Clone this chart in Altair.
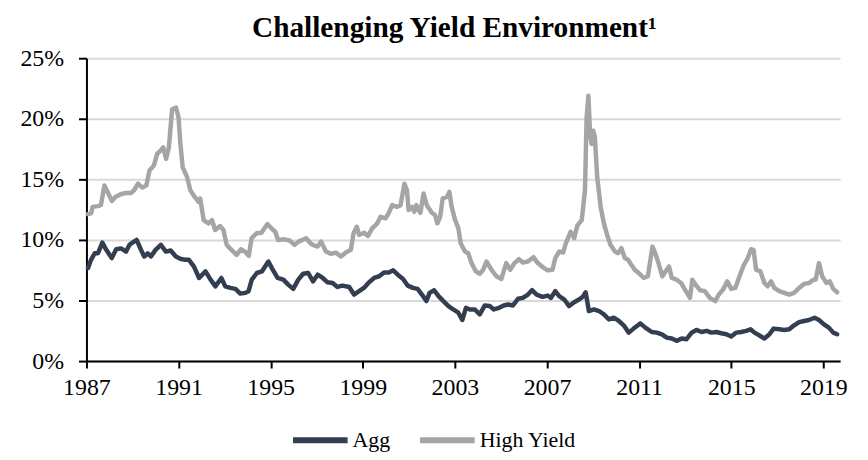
import altair as alt
import pandas as pd

agg_year = [1987.07, 1987.2, 1987.36, 1987.5, 1987.69, 1987.86, 1988.1, 1988.29, 1988.5, 1988.72,
            1988.87, 1989.0, 1989.18, 1989.37, 1989.51, 1989.66, 1989.8, 1990.0, 1990.23, 1990.45,
            1990.66, 1990.88, 1991.1, 1991.3, 1991.45, 1991.67, 1991.89, 1992.17, 1992.39, 1992.6,
            1992.86, 1993.03, 1993.25, 1993.47, 1993.68, 1993.9, 1994.04, 1994.18, 1994.4, 1994.62,
            1994.9, 1995.05, 1995.3, 1995.55, 1995.76, 1995.98, 1996.2, 1996.41, 1996.63, 1996.84,
            1997.04, 1997.26, 1997.47, 1997.69, 1997.9, 1998.12, 1998.41, 1998.62, 1998.84, 1999.05,
            1999.27, 1999.49, 1999.7, 1999.92, 2000.13, 2000.32, 2000.52, 2000.75, 2000.95, 2001.18,
            2001.38, 2001.57, 2001.76, 2001.9, 2002.1, 2002.29, 2002.5, 2002.72, 2002.93, 2003.15,
            2003.32, 2003.48, 2003.65, 2003.87, 2004.08, 2004.3, 2004.51, 2004.69, 2004.92, 2005.12,
            2005.31, 2005.52, 2005.74, 2005.95, 2006.17, 2006.35, 2006.55, 2006.81, 2007.03, 2007.17,
            2007.36, 2007.53, 2007.75, 2007.96, 2008.18, 2008.39, 2008.55, 2008.68, 2008.82, 2009.04,
            2009.26, 2009.47, 2009.69, 2009.9, 2010.12, 2010.33, 2010.55, 2010.76, 2011.05, 2011.27,
            2011.55, 2011.77, 2011.99, 2012.2, 2012.42, 2012.63, 2012.85, 2013.06, 2013.28, 2013.49,
            2013.71, 2013.93, 2014.14, 2014.36, 2014.57, 2014.79, 2015.0, 2015.22, 2015.43, 2015.65,
            2015.84, 2016.01, 2016.22, 2016.44, 2016.66, 2016.84, 2017.09, 2017.3, 2017.52, 2017.73,
            2017.95, 2018.16, 2018.38, 2018.62, 2018.81, 2019.03, 2019.24, 2019.43, 2019.6]
agg_val = [7.68, 8.36, 8.9, 8.9, 9.78, 9.18, 8.5, 9.23, 9.3, 9.04,
           9.6, 9.78, 10.0, 9.18, 8.63, 8.9, 8.63, 9.18, 9.6, 9.04,
           9.13, 8.63, 8.42, 8.36, 8.36, 7.8, 6.86, 7.4, 6.72, 6.17,
           6.86, 6.17, 6.04, 5.96, 5.57, 5.63, 5.77, 6.72, 7.27, 7.4,
           8.22, 7.68, 6.86, 6.72, 6.31, 5.96, 6.72, 7.21, 7.27, 6.58,
           7.13, 6.86, 6.5, 6.45, 6.12, 6.23, 6.12, 5.49, 5.77, 6.04,
           6.5, 6.86, 6.99, 7.32, 7.32, 7.49, 7.13, 6.78, 6.23, 6.04,
           5.96, 5.49, 4.95, 5.63, 5.85, 5.36, 4.95, 4.54, 4.26, 3.99,
           3.39, 4.4, 4.26, 4.26, 3.85, 4.59, 4.54, 4.26, 4.4, 4.59,
           4.67, 4.59, 5.14, 5.22, 5.49, 5.85, 5.49, 5.3, 5.41, 5.22,
           5.77, 5.36, 5.08, 4.54, 4.86, 5.08, 5.3, 5.68, 4.13, 4.26,
           4.13, 3.85, 3.44, 3.58, 3.31, 2.95, 2.35, 2.68, 3.11, 2.76,
           2.4, 2.35, 2.21, 1.94, 1.86, 1.67, 1.86, 1.8, 2.35, 2.57,
           2.4, 2.49, 2.35, 2.4, 2.3, 2.21, 2.02, 2.35, 2.4, 2.49,
           2.62, 2.35, 2.13, 1.86, 2.21, 2.68, 2.62, 2.57, 2.62, 2.95,
           3.22, 3.31, 3.39, 3.58, 3.39, 3.03, 2.76, 2.35, 2.21]

hy_year = [1987.06, 1987.2, 1987.27, 1987.49, 1987.63, 1987.78, 1987.92, 1988.1, 1988.25, 1988.49,
           1988.71, 1988.93, 1989.07, 1989.24, 1989.43, 1989.6, 1989.74, 1989.93, 1990.07, 1990.22,
           1990.33, 1990.46, 1990.58, 1990.72, 1990.89, 1991.0, 1991.08, 1991.18, 1991.37, 1991.51,
           1991.7, 1991.87, 1991.94, 1992.09, 1992.3, 1992.45, 1992.59, 1992.8, 1992.95, 1993.09,
           1993.3, 1993.52, 1993.71, 1993.88, 1994.05, 1994.17, 1994.39, 1994.6, 1994.86, 1995.03,
           1995.2, 1995.32, 1995.6, 1995.82, 1996.04, 1996.21, 1996.54, 1996.76, 1996.93,
           1997.04, 1997.19, 1997.4, 1997.62, 1997.83, 1998.05, 1998.26, 1998.48, 1998.6, 1998.74,
           1998.84, 1999.06, 1999.23, 1999.41, 1999.63, 1999.77, 1999.99, 2000.13, 2000.28, 2000.49,
           2000.64, 2000.81, 2000.92, 2000.99, 2001.14, 2001.24, 2001.33, 2001.5, 2001.64, 2001.78,
           2002.0, 2002.14, 2002.24, 2002.36, 2002.47, 2002.65, 2002.76, 2002.86, 2003.01, 2003.15,
           2003.25, 2003.44, 2003.58, 2003.72, 2003.91, 2004.08, 2004.23, 2004.37, 2004.59, 2004.8,
           2005.02, 2005.23, 2005.4, 2005.59, 2005.78, 2005.95, 2006.17, 2006.41, 2006.6, 2006.81,
           2007.03, 2007.24, 2007.36, 2007.53, 2007.7, 2007.82, 2008.03, 2008.18, 2008.32, 2008.51,
           2008.65, 2008.72, 2008.8, 2008.87, 2008.94, 2009.01, 2009.08, 2009.18, 2009.33, 2009.47,
           2009.61, 2009.76, 2009.95, 2010.09, 2010.23, 2010.38, 2010.52, 2010.66, 2010.81, 2010.98,
           2011.2, 2011.38, 2011.58, 2011.7, 2011.84, 2012.01, 2012.2, 2012.3, 2012.42, 2012.63,
           2012.82, 2012.99, 2013.21, 2013.31, 2013.45, 2013.64, 2013.85, 2014.07, 2014.31, 2014.46,
           2014.64, 2014.83, 2015.0, 2015.18, 2015.36, 2015.55, 2015.72, 2015.86, 2015.97, 2016.08,
           2016.27, 2016.44, 2016.58, 2016.73, 2016.87, 2017.09, 2017.3, 2017.52, 2017.73, 2017.95,
           2018.16, 2018.38, 2018.57, 2018.67, 2018.81, 2018.95, 2019.14, 2019.28, 2019.43, 2019.6]
hy_val = [12.13, 12.19, 12.73, 12.79, 12.87, 14.5, 13.96, 13.22, 13.55, 13.77,
          13.88, 13.88, 14.1, 14.64, 14.32, 14.5, 15.74, 16.15, 17.1, 17.38,
          17.65, 16.69, 17.65, 20.79, 20.93, 20.1, 17.92, 16.0, 15.19, 14.1,
          13.55, 13.14, 13.42, 11.64, 11.37, 11.64, 10.82, 11.15, 10.82, 9.59,
          9.18, 8.77, 9.23, 9.04, 8.69, 10.14, 10.55, 10.6, 11.31, 10.96,
          10.68, 10.0, 10.05, 9.95, 9.59, 9.86, 10.14, 9.67, 9.51,
          9.45, 9.86, 9.04, 8.85, 8.96, 8.63, 8.96, 9.18, 10.55, 11.09,
          10.41, 10.6, 10.33, 10.96, 11.37, 11.91, 11.78, 12.24, 12.87, 12.73,
          12.87, 14.64, 14.1, 12.46, 12.73, 12.32, 12.87, 12.24, 13.83, 12.87,
          12.24, 12.05, 11.37, 11.91, 13.42, 13.55, 13.96, 12.73, 11.64, 10.96,
          9.73, 9.04, 8.91, 8.09, 7.4, 7.21, 7.54, 8.22, 7.54, 7.0,
          6.78, 8.09, 7.54, 8.09, 8.42, 8.14, 8.22, 8.58, 8.09, 7.76,
          7.49, 7.54, 8.5, 9.04, 8.96, 9.73, 10.68, 10.14, 11.2, 11.64,
          14.1, 20.1, 21.9, 18.74, 17.92, 19.02, 18.47, 15.19, 12.73, 11.37,
          10.41, 9.59, 9.04, 8.91, 9.32, 8.5, 8.36, 7.95, 7.54, 7.27,
          6.86, 7.0, 9.45, 8.91, 8.09, 7.0, 7.54, 7.81, 6.86, 6.72,
          6.45, 5.9, 5.22, 6.72, 6.31, 5.85, 5.77, 5.22, 4.95, 5.49,
          5.9, 6.58, 5.96, 6.04, 7.0, 7.95, 8.5, 9.23, 9.18, 7.54,
          7.4, 6.45, 6.17, 6.58, 6.04, 5.77, 5.63, 5.49, 5.63, 6.04,
          6.37, 6.45, 6.72, 6.72, 8.09, 7.0, 6.45, 6.58, 5.96, 5.68]

series_names = ["Agg", "High Yield"]
series_colors = ["#333F50", "#A5A5A5"]
year_ticks = [1987, 1991, 1995, 1999, 2003, 2007, 2011, 2015, 2019]
pct_ticks = [0, 5, 10, 15, 20, 25]

df = pd.concat([
    pd.DataFrame({"year": agg_year, "value": agg_val, "series": "Agg", "order": 2}),
    pd.DataFrame({"year": hy_year, "value": hy_val, "series": "High Yield", "order": 1}),
])

FONT = "Liberation Serif"

chart = alt.Chart(df).mark_line(strokeWidth=4.5, strokeJoin="round", strokeCap="round").encode(
    x=alt.X("year:Q",
            scale=alt.Scale(domain=[1987, 2019.73], nice=False, zero=False),
            axis=alt.Axis(values=year_ticks, format="d", title=None, grid=False,
                          domainColor="black", domainWidth=2, tickColor="black", tickWidth=2,
                          tickSize=7, labelPadding=8, labelFontSize=24, labelFont=FONT,
                          labelColor="black", labelFlush=False)),
    y=alt.Y("value:Q",
            scale=alt.Scale(domain=[0, 25], nice=False),
            axis=alt.Axis(values=pct_ticks, title=None, grid=True, gridColor="#D9D9D9", gridWidth=2,
                          labelExpr="datum.value + '%'",
                          domainColor="black", domainWidth=2, tickColor="black", tickWidth=2,
                          tickSize=8, labelPadding=15, labelFontSize=24, labelFont=FONT,
                          labelColor="black")),
    color=alt.Color("series:N",
                    scale=alt.Scale(domain=series_names, range=series_colors),
                    legend=alt.Legend(title=None, orient="none", direction="horizontal",
                                      legendX=205, legendY=354, symbolType="stroke",
                                      symbolSize=3025, symbolStrokeWidth=6, labelFont=FONT,
                                      labelFontSize=22, labelColor="black", labelOffset=2,
                                      columnPadding=18, padding=0)),
    order=alt.Order("order:Q"),
).properties(
    width=759, height=305,
    padding={"left": 79, "top": 49, "right": 20, "bottom": 90},
    autosize=alt.AutoSizeParams(type="none"),
    title=alt.Title("Challenging Yield Environment¹", font=FONT, fontSize=29.5, fontWeight="bold",
                    color="black", anchor="middle", dx=-9, offset=3),
).configure_view(stroke=None)

chart.save("out.html", embed_options={"renderer": "svg", "actions": False})
